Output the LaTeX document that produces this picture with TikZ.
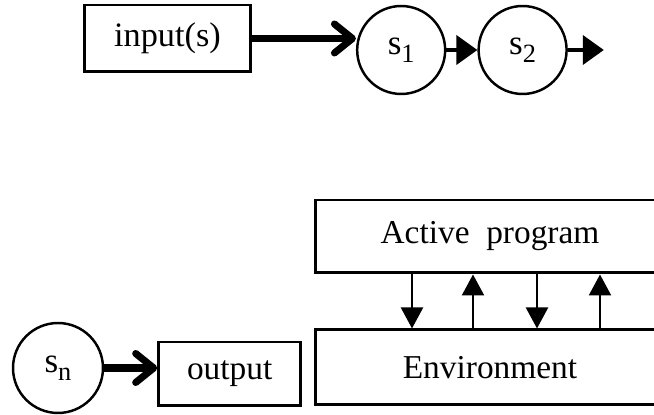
\documentclass[tikz,border=0pt]{standalone}
\usepackage{fontspec}
\setmainfont{Liberation Serif}
\usetikzlibrary{arrows.meta,positioning}
\newcommand{\stsub}[1]{\raisebox{-0.22em}{\fontsize{15}{15}\selectfont #1}}
\tikzset{
  flowbox/.style={
    draw,
    line width=1.7pt,
    align=center,
    inner sep=0pt,
    font=\fontsize{19}{22}\selectfont
  },
  statecirc/.style={
    draw,
    circle,
    line width=1.4pt,
    minimum size=1.76cm,
    inner sep=0pt,
    font=\fontsize{20}{22}\selectfont
  },
  bigflow/.style={-{Straight Barb[length=0.36cm,width=0.58cm,line cap=round,line join=round]},line width=4pt},
  smallflow/.style={-{Triangle[length=0.42cm,width=0.58cm]},line width=2.2pt},
  ioflow/.style={-{Triangle[length=0.42cm,width=0.44cm]},line width=1.3pt}
}
\begin{document}
\begin{tikzpicture}[x=0.02cm,y=-0.02cm,node distance=1.1cm]
  \useasboundingbox (0,0) rectangle (654,415);
  \node[flowbox,font=\fontsize{19.5}{22}\selectfont,minimum width=3.34cm,minimum height=1.34cm] (in) at (167.5,38.5) {input(s)};
  \node[statecirc,right=2.07cm of in,yshift=-0.23cm] (s1) {s\stsub{1}};
  \node[statecirc,right=0.62cm of s1] (s2) {s\stsub{2}};
  \coordinate[right=0.72cm of s2] (s2out);
  \node[statecirc,minimum size=1.8cm] (sn) at (58,368) {s\stsub{n}};
  \node[flowbox,right=1.06cm of sn,yshift=-0.12cm,minimum width=2.84cm,minimum height=1.28cm] (out) {output};
  \node[flowbox,minimum width=7cm,minimum height=1.46cm] (prog) at (490,236.5) {Active~~program};
  \node[flowbox,below=1.08cm of prog,minimum width=6.98cm,minimum height=1.5cm] (env) {Environment};
  \draw[bigflow] (in.east) -- (in.east -| s1.west);
  \draw[smallflow] (s1) -- (s2);
  \draw[smallflow] (s2) -- (s2out);
  \draw[bigflow] (sn.east) -- (sn.east -| out.west);
  % program <-> environment
  \foreach \xx in {412,537} {
    \coordinate (k) at (\xx,0);
    \draw[ioflow] (prog.south -| k) -- (env.north -| k);
  }
  \foreach \xx in {473,600} {
    \coordinate (k) at (\xx,0);
    \draw[ioflow] (env.north -| k) -- (prog.south -| k);
  }
\end{tikzpicture}
\end{document}
